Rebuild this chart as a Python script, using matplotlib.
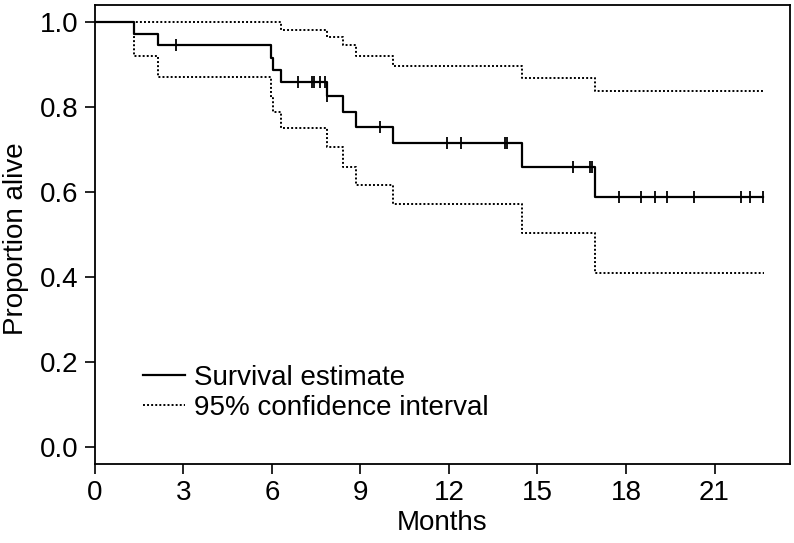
import numpy as np
import matplotlib
matplotlib.use("Agg")
import matplotlib.pyplot as plt

# Kaplan-Meier estimate (months, proportion alive)
surv_times = [0, 1.33, 2.14, 5.97, 6.03, 6.30, 7.85, 8.42, 8.85, 10.11, 14.48, 16.96]
surv_vals = [1.0, 0.972, 0.944, 0.915, 0.886, 0.859, 0.824, 0.788, 0.752, 0.714, 0.659, 0.587]
surv_end = 22.65

# censored observations (months)
censor_times = [2.75, 6.89, 7.37, 7.43, 7.63, 7.80, 7.87, 9.66, 11.94, 12.41,
                13.90, 13.95, 16.20, 16.78, 16.84, 17.75, 18.50, 18.97, 19.40,
                20.32, 21.90, 22.20, 22.65]

# 95% confidence limits
lower_times = [0, 1.33, 2.14, 5.97, 6.03, 6.30, 7.85, 8.42, 8.85, 10.11, 14.48, 16.96]
lower_vals = [1.0, 0.920, 0.871, 0.820, 0.788, 0.751, 0.706, 0.659, 0.616, 0.571, 0.502, 0.409]
upper_times = [0, 6.30, 7.85, 8.42, 8.85, 10.11, 14.48, 16.96]
upper_vals = [1.0, 0.980, 0.963, 0.944, 0.919, 0.895, 0.867, 0.838]
ci_end = 22.68

xticks = [0, 3, 6, 9, 12, 15, 18, 21]
yticks = [0.0, 0.2, 0.4, 0.6, 0.8, 1.0]

plt.rcParams['font.family'] = ['Liberation Sans', 'DejaVu Sans']
FS = 20

fig = plt.figure(figsize=(7.94, 5.43), dpi=100)
ax = fig.add_axes([0.1196, 0.146, 0.8754, 0.8446])

dotted = (0, (1, 1.1))

def step_line(times, vals, end, **kw):
    t = list(times) + [end]
    v = list(vals) + [vals[-1]]
    ax.step(t, v, where='post', **kw)

step_line(surv_times, surv_vals, surv_end, color='black', lw=1.6,
          label='Survival estimate')
step_line(upper_times, upper_vals, ci_end, color='black', lw=1.4, ls=dotted,
          label='95% confidence interval')
step_line(lower_times, lower_vals, ci_end, color='black', lw=1.4, ls=dotted)

# censor ticks sit on the survival curve
idx = np.searchsorted(surv_times, censor_times, side='right') - 1
censor_y = np.array(surv_vals)[idx]
ax.plot(censor_times, censor_y, ls='none', marker='|', ms=8, mew=1.3,
        color='black')

ax.set_xlim(0, 23.56)
ax.set_ylim(-0.04, 1.039)
ax.set_xticks(xticks)
ax.set_xticklabels([str(t) for t in xticks])
ax.set_yticks(yticks)
ax.set_yticklabels([f"{t:.1f}" for t in yticks])
ax.tick_params(direction='out', length=7, width=1.2, labelsize=FS, pad=5)
for s in ax.spines.values():
    s.set_linewidth(1.3)

ax.set_xlabel('Months', fontsize=FS)
ax.set_ylabel('Proportion alive', fontsize=FS)
ax.xaxis.set_label_coords(0.5, -0.101)
ax.yaxis.set_label_coords(-0.095, 0.49)

ax.legend(loc='center left', bbox_to_anchor=(0.069, 0.154), frameon=False,
          fontsize=FS, handlelength=1.53, handletextpad=0.3,
          labelspacing=0.15, borderpad=0, borderaxespad=0)

fig.savefig('out.png', dpi=100)
